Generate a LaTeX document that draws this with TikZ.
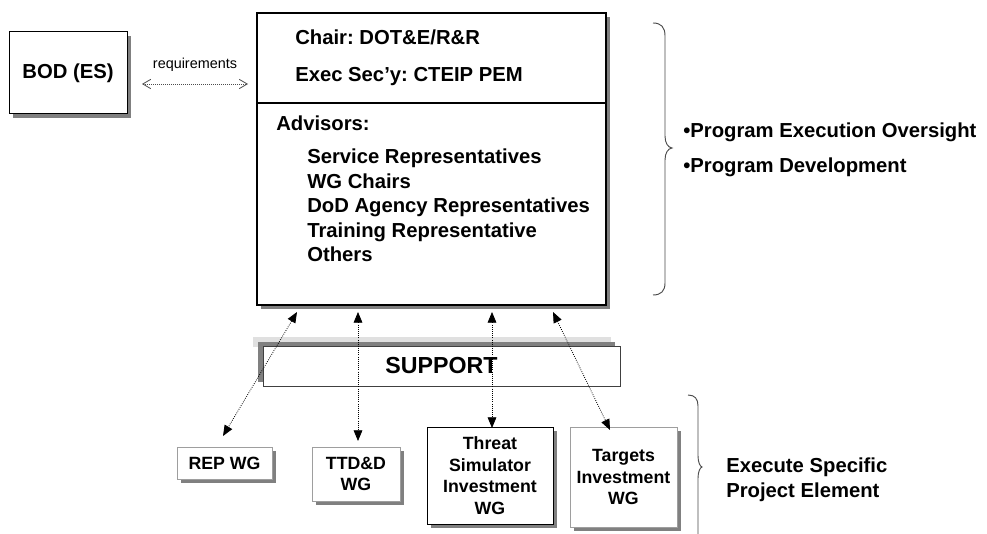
\documentclass[tikz,border=0pt]{standalone}
\usepackage{fontspec}
\setmainfont{Liberation Sans}
\usetikzlibrary{arrows.meta,shadows}
\frenchspacing
\begin{document}
\begin{tikzpicture}[x=0.75pt,y=-0.75pt,
  shad/.style={drop shadow={shadow xshift=3pt,shadow yshift=-3pt,fill=black!50,opacity=1}},
  bigfont/.style={font=\fontsize{15.2}{18}\selectfont\bfseries},
  wgfont/.style={font=\fontsize{13.3}{16.1}\selectfont\bfseries},
  bodbox/.style={shad,draw=black,line width=0.75pt,fill=white,inner sep=0pt,align=center,bigfont},
  mainbox/.style={shad,draw=black,line width=1.5pt,fill=white,inner sep=0pt},
  wgbox/.style={shad,draw=black!38,line width=0.75pt,fill=white,inner sep=0pt,align=center,wgfont},
  thrbox/.style={wgbox,draw=black},
  supbox/.style={draw=black!75,line width=0.75pt,fill=white,inner sep=0pt,font=\fontsize{17.4}{20}\selectfont\bfseries},
  txt/.style={anchor=base west,inner sep=0pt,bigfont},
  dotarrow/.style={densely dotted,line width=0.6pt,black,{Triangle[length=8pt,width=6.5pt]}-{Triangle[length=8pt,width=6.5pt]}},
  reqarrow/.style={densely dotted,line width=0.5pt,black!70,{Straight Barb[length=6pt,width=7pt,line width=0.6pt]}-{Straight Barb[length=6pt,width=7pt,line width=0.6pt]}},
  bracel/.style={draw=black!70,line width=0.7pt}
]
\useasboundingbox[fill=white] (0,0) rectangle (987,534);

% top boxes
\node[bodbox,minimum width=88.5pt,minimum height=61.5pt] (bod) at (68,73) {BOD (ES)};
\node[mainbox,minimum width=261.75pt,minimum height=219pt] (main) at (431.5,159) {};
\coordinate (dl) at (257,103);
\coordinate (dr) at (606,103);
\draw[line width=1.5pt] (dl) -- (dr);

\node[txt] (chair) at (295,45) {Chair: DOT\&E/R\&R};
\node[txt] (exec) at (295,82) {Exec Sec’y: CTEIP PEM};
\node[txt] (adv) at (276,131) {Advisors:};
\node[txt] (svc) at (307,164) {Service Representatives};
\node[txt] (wgc) at (307,188.5) {WG Chairs};
\node[txt] (dod) at (307,213) {DoD Agency Representatives};
\node[txt] (trn) at (307,237.5) {Training Representative};
\node[txt] (oth) at (307,262) {Others};

% requirements
\node[anchor=base,inner sep=0pt,font=\fontsize{10.8}{12}\selectfont] (req) at (195,69) {requirements};
\coordinate (rl) at (142,84);
\coordinate (rr) at (248,84);
\draw[reqarrow] (rl) -- (rr);

% right side texts and braces
\draw[bracel] (653,23) .. controls (661,23) and (665,27) .. (665,36) -- (665,136)
  .. controls (665,143) and (668,147.5) .. (672,148)
  .. controls (668,148.5) and (665,153) .. (665,160) -- (665,283)
  .. controls (665,291) and (661,295) .. (653,295);
\node[txt] (peo) at (683,138) {•Program Execution Oversight};
\node[txt] (pdv) at (683,173) {•Program Development};

\draw[bracel] (688,395) .. controls (695,395) and (698,399) .. (698,406) -- (698,456)
  .. controls (698,462) and (700,466.5) .. (702,467)
  .. controls (700,467.5) and (698,472) .. (698,478) -- (698,534);
\node[txt] (esp) at (726,472) {Execute Specific};
\node[txt] (pel) at (726,497) {Project Element};

% support
\fill[black!12] (253,337) rectangle (611,347);
\fill[black!50] (258,342) rectangle (615,382);
\node[supbox,minimum width=267.75pt,minimum height=30pt] (sup) at (441.5,366) {SUPPORT};

% working groups
\node[wgbox,minimum width=71.25pt,minimum height=24pt] (rep) at (224.5,463) {REP WG};
\node[wgbox,minimum width=66pt,minimum height=40.5pt] (ttd) at (356,474) {TTD\&D\\WG};
\node[thrbox,minimum width=94.5pt,minimum height=72.75pt] (thr) at (490,475.5) {Threat\\Simulator\\Investment\\WG};
\node[wgbox,minimum width=80.25pt,minimum height=75pt] (tgt) at (623.5,477) {Targets\\Investment\\WG};

% connectors
\coordinate (a1t) at (297,312); \coordinate (a1b) at (223,436);
\coordinate (a2t) at (358,312); \coordinate (a2b) at (358,441);
\coordinate (a3t) at (492,312); \coordinate (a3b) at (492,428);
\coordinate (a4t) at (553,312); \coordinate (a4b) at (610,430);
\draw[dotarrow] (a1t) -- (a1b);
\draw[dotarrow] (a2t) -- (a2b);
\draw[dotarrow] (a3t) -- (a3b);
\draw[dotarrow] (a4t) -- (a4b);
\end{tikzpicture}
\end{document}
